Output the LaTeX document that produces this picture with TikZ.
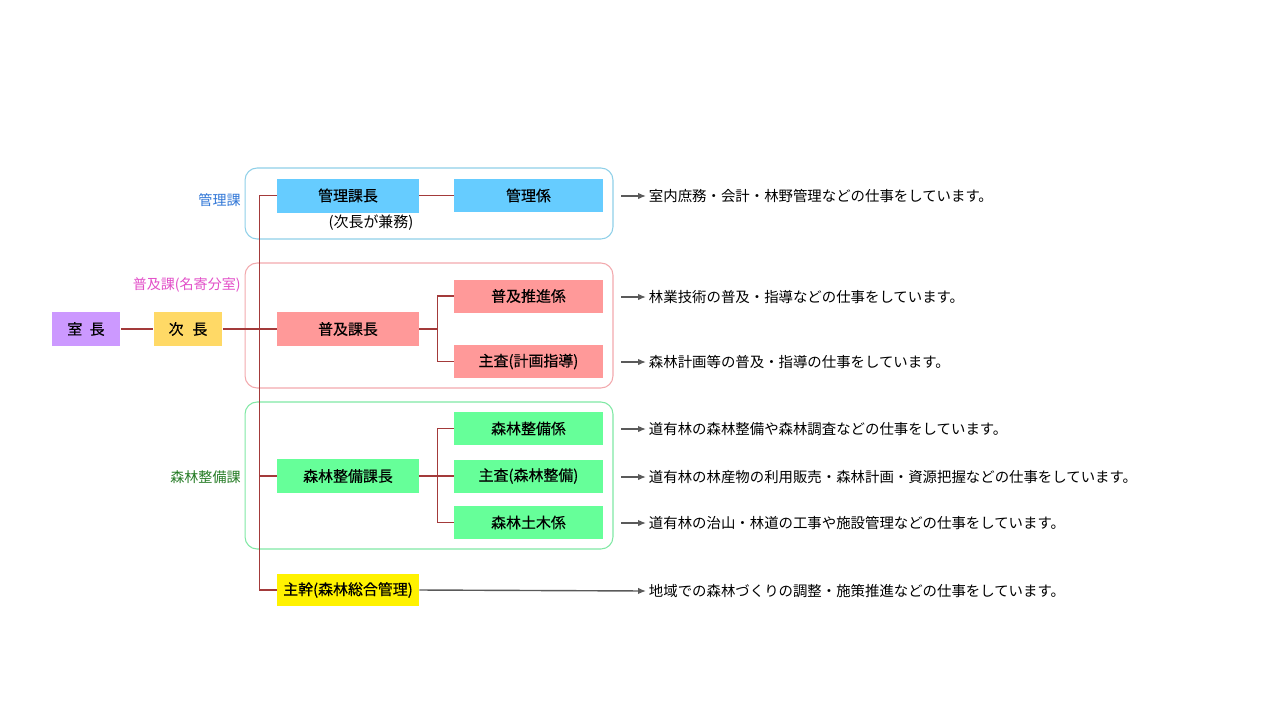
\documentclass[tikz,border=0pt]{standalone}
\usepackage{fontspec}
\newfontfamily\jp{Noto Sans CJK JP}
\newfontfamily\jpbox[FakeBold=0.4]{Noto Sans CJK JP}
\usetikzlibrary{arrows.meta,positioning}

\definecolor{murasaki}{HTML}{CC99FF}
\definecolor{jichoyel}{HTML}{FFD966}
\definecolor{kanriblue}{HTML}{66CCFF}
\definecolor{fukyupink}{HTML}{FF9999}
\definecolor{shinringreen}{HTML}{66FF99}
\definecolor{linered}{HTML}{A33A3A}
\definecolor{kanriedge}{HTML}{8FD0E8}
\definecolor{fukyuedge}{HTML}{F2A9AD}
\definecolor{shinrinedge}{HTML}{80E8A4}
\definecolor{kanrilabel}{HTML}{2E75D6}
\definecolor{fukyulabel}{HTML}{E24FC8}
\definecolor{shinrinlabel}{HTML}{237A23}
\definecolor{arrgray}{HTML}{5A5A5A}

\begin{document}
\begin{tikzpicture}[x=0.02cm,y=-0.02cm,
  post/.style={inner sep=0pt,minimum height=0.68cm,font=\jpbox\fontsize{8.5}{10}\selectfont},
  headbox/.style={post,minimum width=1.38cm},
  chobox/.style={post,minimum width=2.84cm},
  kakaribox/.style={post,minimum width=2.98cm,minimum height=0.66cm},
  group/.style={draw,rounded corners=0.24cm,line width=0.6pt,minimum width=7.36cm},
  grouplabel/.style={anchor=east,inner sep=0pt,font=\jp\fontsize{8}{10}\selectfont},
  desc/.style={anchor=west,inner sep=1.5pt,font=\jp\fontsize{8.2}{10}\selectfont},
  line/.style={draw=linered,line width=0.8pt},
  arr/.style={draw=arrgray,line width=0.8pt,-{Latex[length=1.6mm,width=1.3mm]}}]
\useasboundingbox (0,0) rectangle (1280,720);

% section frames
\node[group,draw=kanriedge,minimum height=1.42cm] (g_kanri) at (429,203.5) {};
\node[group,draw=fukyuedge,minimum height=2.5cm] (g_fukyu) at (429,325.5) {};
\node[group,draw=shinrinedge,minimum height=2.94cm] (g_shinrin) at (429,475.5) {};
\node[grouplabel,text=kanrilabel] (l_kanri) at (241,200) {管理課};
\node[grouplabel,text=fukyulabel] (l_fukyu) at (241,285) {普及課(名寄分室)};
\node[grouplabel,text=shinrinlabel] (l_shinrin) at (241,477) {森林整備課};

% head
\node[headbox,fill=murasaki] (shitsucho) at (86,329) {室\hspace{0.5em}長};
\node[headbox,fill=jichoyel] (jicho) at (188,329) {次\hspace{0.6em}長};

% section chiefs
\node[chobox,fill=kanriblue] (kanricho) at (348,195.5) {管理課長};
\node[inner sep=0pt,font=\jp\fontsize{8.5}{10}\selectfont] (kenmu) at (371,223) {(次長が兼務)};
\node[chobox,fill=fukyupink] (fukyucho) at (348,329) {普及課長};
\node[chobox,fill=shinringreen] (shinrincho) at (348,476) {森林整備課長};
\node[chobox,fill=yellow,minimum height=0.64cm] (shukan) at (348,590) {主幹(森林総合管理)};

% staff
\node[kakaribox,fill=kanriblue] (kanrigakari) at (528.5,195.5) {管理係};
\node[kakaribox,fill=fukyupink] (suishin) at (528.5,296) {普及推進係};
\node[kakaribox,fill=fukyupink] (shusa1) at (528.5,361.5) {主査(計画指導)};
\node[kakaribox,fill=shinringreen] (seibi) at (528.5,428.5) {森林整備係};
\node[kakaribox,fill=shinringreen] (shusa2) at (528.5,476) {主査(森林整備)};
\node[kakaribox,fill=shinringreen] (doboku) at (528.5,522.5) {森林土木係};

% lines
\draw[line] (shitsucho) -- (jicho);
\draw[line] (jicho) -- (fukyucho);
\draw[line] (kanricho.west) -- ++(-17,0) |- (shukan.west);
\draw[line] (shinrincho.west) -- ++(-17,0);
\draw[line] (kanricho) -- (kanrigakari);
\draw[line] (fukyucho.east) -- ++(18,0) coordinate (b1) |- (suishin.west);
\draw[line] (b1) |- (shusa1.west);
\draw[line] (shinrincho.east) -- ++(18,0) coordinate (b2) |- (seibi.west);
\draw[line] (b2) -- (shusa2.west);
\draw[line] (b2) |- (doboku.west);

% duties
\node[desc] (d1) at (646,196) {室内庶務・会計・林野管理などの仕事をしています。};
\node[desc] (d2) at (646,297) {林業技術の普及・指導などの仕事をしています。};
\node[desc] (d3) at (646,362) {森林計画等の普及・指導の仕事をしています。};
\node[desc] (d4) at (646,429) {道有林の森林整備や森林調査などの仕事をしています。};
\node[desc] (d5) at (646,477) {道有林の林産物の利用販売・森林計画・資源把握などの仕事をしています。};
\node[desc] (d6) at (646,523) {道有林の治山・林道の工事や施設管理などの仕事をしています。};
\node[desc] (d7) at (646,591) {地域での森林づくりの調整・施策推進などの仕事をしています。};
\coordinate (t1) at (621,196);
\coordinate (t2) at (621,297);
\coordinate (t3) at (621,362);
\coordinate (t4) at (621,429);
\coordinate (t5) at (621,477);
\coordinate (t6) at (621,523);
\draw[arr] (t1) -- (d1.west);
\draw[arr] (t2) -- (d2.west);
\draw[arr] (t3) -- (d3.west);
\draw[arr] (t4) -- (d4.west);
\draw[arr] (t5) -- (d5.west);
\draw[arr] (t6) -- (d6.west);
\draw[arr] (shukan.east) -- (d7.west);
\end{tikzpicture}
\end{document}
